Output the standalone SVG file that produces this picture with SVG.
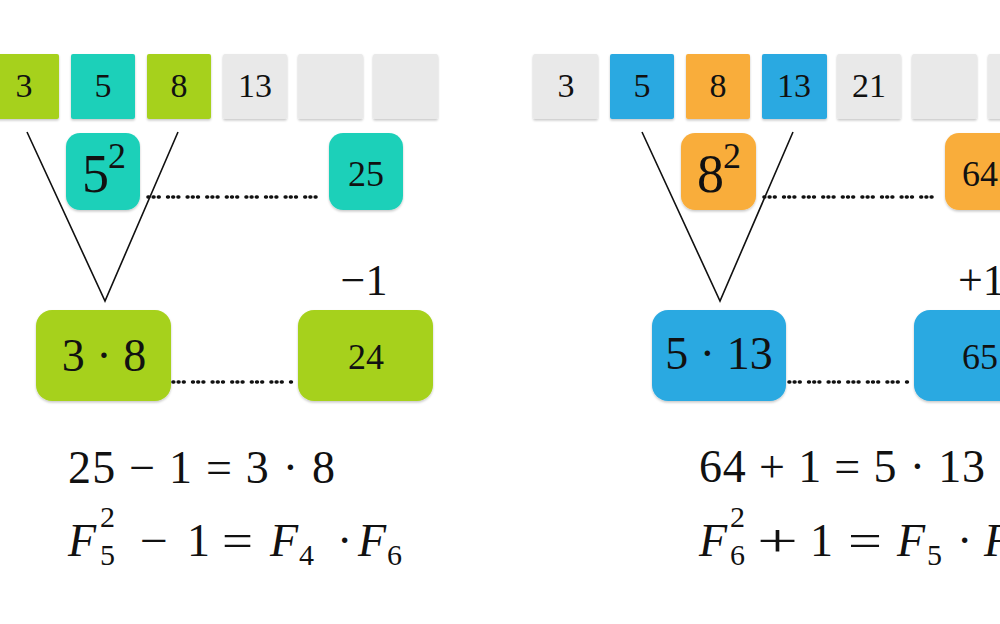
<svg xmlns="http://www.w3.org/2000/svg" width="1000" height="624" viewBox="0 0 1000 624" font-family="'Liberation Serif', serif">
<style>
text{fill:#111;font-family:'Liberation Serif',serif}
.sq{font-size:34px;text-anchor:middle}
.mid{text-anchor:middle}
.it{font-style:italic}
.g{fill:#a6d11c}.t{fill:#1ed0b9}.b{fill:#2aa9e1}.o{fill:#f9ad3a}.e{fill:#e9e9e9}
.ln{stroke:#111;stroke-width:1.6;fill:none}
.dot{stroke:#111;stroke-width:3.6;stroke-linecap:round;stroke-dasharray:0.8 4.4 0.8 4.4 0.8 8.4;fill:none}
</style>
<defs>
<filter id="sh" x="-10%" y="-10%" width="120%" height="130%">
<feDropShadow dx="0" dy="1.5" stdDeviation="1.2" flood-color="#000" flood-opacity="0.22"/>
</filter>
</defs>
<rect width="1000" height="624" fill="#fff"/>

<g id="connectors">
<polyline class="ln" points="27,132 105,301 178,132"/>
<polyline class="ln" points="642,132 720,301 793,132"/>
<line class="dot" x1="148" y1="197" x2="320" y2="197"/>
<line class="dot" x1="173" y1="382" x2="293" y2="382"/>
<line class="dot" x1="764" y1="197" x2="935" y2="197"/>
<line class="dot" x1="789" y1="382" x2="908" y2="382"/>
</g>

<g id="left-row">
<g id="L3"><rect class="g" x="-5" y="54" width="64" height="65" rx="2" filter="url(#sh)"/><text class="sq" x="24" y="97">3</text></g>
<g id="L5"><rect class="t" x="71" y="54" width="64" height="65" rx="2" filter="url(#sh)"/><text class="sq" x="103" y="97">5</text></g>
<g id="L8"><rect class="g" x="147" y="54" width="64" height="65" rx="2" filter="url(#sh)"/><text class="sq" x="179" y="97">8</text></g>
<g id="L13"><rect class="e" x="223" y="54" width="64" height="65" rx="2" filter="url(#sh)"/><text class="sq" x="255" y="97">13</text></g>
<g id="Le1"><rect class="e" x="298" y="54" width="65" height="65" rx="2" filter="url(#sh)"/></g>
<g id="Le2"><rect class="e" x="373" y="54" width="65" height="65" rx="2" filter="url(#sh)"/></g>
</g>

<g id="right-row">
<g id="R3"><rect class="e" x="533" y="54" width="65" height="65" rx="2" filter="url(#sh)"/><text class="sq" x="566" y="97">3</text></g>
<g id="R5"><rect class="b" x="610" y="54" width="64" height="65" rx="2" filter="url(#sh)"/><text class="sq" x="642" y="97">5</text></g>
<g id="R8"><rect class="o" x="686" y="54" width="64" height="65" rx="2" filter="url(#sh)"/><text class="sq" x="718" y="97">8</text></g>
<g id="R13"><rect class="b" x="762" y="54" width="65" height="65" rx="2" filter="url(#sh)"/><text class="sq" x="794" y="97">13</text></g>
<g id="R21"><rect class="e" x="837" y="54" width="64" height="65" rx="2" filter="url(#sh)"/><text class="sq" x="869" y="97">21</text></g>
<g id="Re1"><rect class="e" x="912" y="54" width="65" height="65" rx="2" filter="url(#sh)"/></g>
<g id="Re2"><rect class="e" x="988" y="54" width="65" height="65" rx="2" filter="url(#sh)"/></g>
</g>

<g id="sq5"><rect class="t" x="66" y="133" width="74" height="77" rx="14" filter="url(#sh)"/><text x="82" y="192" font-size="54">5</text><text x="108" y="168" font-size="36">2</text></g>
<g id="n25"><rect class="t" x="329" y="133" width="74" height="77" rx="14" filter="url(#sh)"/><text class="mid" x="366" y="186" font-size="36">25</text></g>
<g id="p38"><rect class="g" x="36" y="310" width="135" height="91" rx="16" filter="url(#sh)"/><text class="mid" x="104" y="371" font-size="46">3 · 8</text></g>
<g id="n24"><rect class="g" x="298" y="310" width="135" height="91" rx="16" filter="url(#sh)"/><text class="mid" x="366" y="369" font-size="36">24</text></g>
<g id="lblm1"><text class="mid" x="364" y="295" font-size="44">−1</text></g>

<g id="sq8"><rect class="o" x="681" y="133" width="75" height="77" rx="14" filter="url(#sh)"/><text x="697" y="192" font-size="54">8</text><text x="723" y="168" font-size="36">2</text></g>
<g id="n64"><rect class="o" x="945" y="133" width="75" height="77" rx="14" filter="url(#sh)"/><text x="962" y="186" font-size="36">64</text></g>
<g id="p513"><rect class="b" x="652" y="310" width="134" height="91" rx="16" filter="url(#sh)"/><text class="mid" x="719" y="369" font-size="46">5 · 13</text></g>
<g id="n65"><rect class="b" x="914" y="310" width="136" height="91" rx="16" filter="url(#sh)"/><text x="962" y="369" font-size="36">65</text></g>
<g id="lblp1"><text x="958" y="295" font-size="44">+1</text></g>

<g id="eqL">
<text x="68" y="483" font-size="46" textLength="267" lengthAdjust="spacing">25 − 1 = 3 · 8</text>
<text class="it" x="68" y="556" font-size="46">F</text>
<text x="100" y="527" font-size="30">2</text>
<text x="100" y="565" font-size="30">5</text>
<text x="140" y="556" font-size="46" textLength="28" lengthAdjust="spacingAndGlyphs">−</text>
<text x="187" y="556" font-size="46">1</text>
<text x="222" y="556" font-size="46" textLength="31" lengthAdjust="spacingAndGlyphs">=</text>
<text class="it" x="270" y="556" font-size="46">F</text>
<text x="299" y="565" font-size="30">4</text>
<text x="337" y="556" font-size="46">·</text>
<text class="it" x="358" y="556" font-size="46">F</text>
<text x="387" y="565" font-size="30">6</text>
</g>

<g id="eqR">
<text x="699" y="482" font-size="46" textLength="286" lengthAdjust="spacing">64 + 1 = 5 · 13</text>
<text class="it" x="699" y="556" font-size="46">F</text>
<text x="730" y="527" font-size="30">2</text>
<text x="730" y="565" font-size="30">6</text>
<text x="757" y="556" font-size="46" textLength="41" lengthAdjust="spacingAndGlyphs">+</text>
<text x="810" y="556" font-size="46">1</text>
<text x="848" y="556" font-size="46" textLength="34" lengthAdjust="spacingAndGlyphs">=</text>
<text class="it" x="897" y="556" font-size="46">F</text>
<text x="927" y="565" font-size="30">5</text>
<text x="957" y="556" font-size="46">·</text>
<text class="it" x="984" y="556" font-size="46">F</text>
</g>
</svg>
